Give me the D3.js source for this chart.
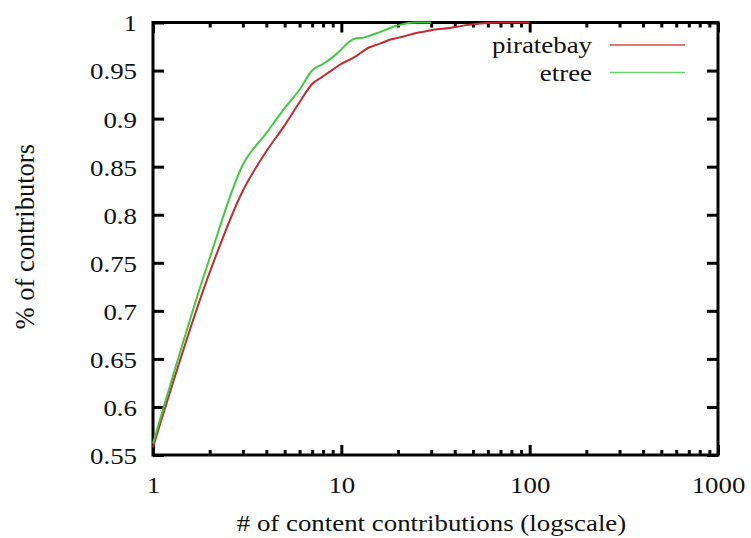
<!DOCTYPE html>
<html>
<head>
<meta charset="utf-8">
<script src="https://cdn.jsdelivr.net/npm/d3@7"></script>
</head>
<body style="margin:0; background:#fff">
<script>
// piratebay CDF
var pbX = [1, 2, 3, 4, 5, 6, 7, 8, 9, 10, 11, 12, 13, 14, 15, 16, 17, 18, 20, 25, 30, 40, 45, 55, 60, 70, 100];
var pbY = [0.558, 0.740, 0.825, 0.866, 0.893, 0.917, 0.936, 0.944, 0.951, 0.957, 0.961, 0.965, 0.970, 0.974, 0.976, 0.978, 0.980, 0.982, 0.984, 0.989, 0.992, 0.995, 0.997, 0.999, 0.9995, 1.0, 1.0];

// etree CDF
var etX = [1, 2, 3, 4, 5, 6, 7, 8, 9, 10, 11, 12, 13, 14, 15, 16, 17, 18, 19, 20, 22, 25, 30];
var etY = [0.562, 0.755, 0.852, 0.885, 0.911, 0.930, 0.950, 0.957, 0.964, 0.972, 0.980, 0.9835, 0.984, 0.986, 0.988, 0.990, 0.992, 0.994, 0.996, 0.997, 0.999, 1.0, 1.0];

var seriesNames = ["piratebay", "etree"];
var yTicks = [0.55, 0.6, 0.65, 0.7, 0.75, 0.8, 0.85, 0.9, 0.95, 1];
var xTicks = [1, 10, 100, 1000];
var xMinor = [2, 3, 4, 5, 6, 7, 8, 9, 20, 30, 40, 50, 60, 70, 80, 90, 200, 300, 400, 500, 600, 700, 800, 900];

var width = 751, height = 538;
var margin = {top: 22.5, right: 33, bottom: 83, left: 153};
var w = width - margin.left - margin.right,
    h = height - margin.top - margin.bottom;

var SX = 1.12; // the picture is a bit wider than tall

var colors = ["#c42a2e", "#3ccc3c"];
var legColors = ["#d44a4a", "#6ad66a"];

var x = d3.scaleLog().domain([1, 1000]).range([0, w]);
var y = d3.scaleLinear().domain([0.55, 1]).range([h, 0]);

var svg = d3.select("body").append("svg")
    .attr("width", width)
    .attr("height", height)
    .attr("font-family", "Liberation Serif")
    .style("display", "block");

var g = svg.append("g")
    .attr("transform", "translate(" + margin.left + "," + margin.top + ")");

// serif font, stretched horizontally about the text's own x
function serif(sel, size) {
    sel.attr("font-family", "Liberation Serif")
        .style("font-family", "'Liberation Serif'")
        .style("font-size", (size || 24) + "px")
        .attr("fill", "#111");
}
function stretch(sel) {
    sel.call(serif).attr("transform", function () {
        var tx = +d3.select(this).attr("x") || 0;
        return "translate(" + tx + ",0) scale(" + SX + ",1) translate(" + (-tx) + ",0)";
    });
}

// frame
g.append("rect")
    .attr("width", w)
    .attr("height", h)
    .attr("fill", "none")
    .attr("stroke", "#000")
    .attr("stroke-width", 3);

// y axis (left, ticks inward)
var yAxis = g.append("g")
    .call(d3.axisLeft(y).tickValues(yTicks).tickSize(-11).tickSizeOuter(0).tickPadding(16)
        .tickFormat(function (d) { return String(+d.toFixed(2)); }));
// y mirror (right)
g.append("g").attr("transform", "translate(" + w + ",0)")
    .call(d3.axisRight(y).tickValues(yTicks).tickSize(-11).tickSizeOuter(0).tickFormat(""));

// x axis major + minor
g.append("g").attr("transform", "translate(0," + h + ")")
    .call(d3.axisBottom(x).tickValues(xTicks).tickSize(-10).tickSizeOuter(0).tickPadding(21)
        .tickFormat(d3.format("d")));
g.append("g").attr("transform", "translate(0," + h + ")")
    .call(d3.axisBottom(x).tickValues(xMinor).tickSize(-5).tickSizeOuter(0).tickFormat(""));
// x mirror (top)
g.append("g")
    .call(d3.axisTop(x).tickValues(xTicks).tickSize(-10).tickSizeOuter(0).tickFormat(""));
g.append("g")
    .call(d3.axisTop(x).tickValues(xMinor).tickSize(-5).tickSizeOuter(0).tickFormat(""));

g.selectAll(".domain").remove();
g.selectAll("g").attr("font-family", "Liberation Serif").attr("font-size", null);
g.selectAll(".tick line").attr("stroke", "#000").attr("stroke-width", 3);
yAxis.selectAll(".tick text").attr("dy", "0.35em");
g.selectAll(".tick text").call(stretch);

// curves
var line = d3.line()
    .curve(d3.curveMonotoneX)
    .x(function (d) { return x(d[0]); })
    .y(function (d) { return y(d[1]); });

var series = [d3.zip(pbX, pbY), d3.zip(etX, etY)];

g.selectAll(".curve")
    .data(series)
    .enter().append("path")
    .attr("class", "curve")
    .attr("d", line)
    .attr("fill", "none")
    .attr("stroke", function (d, i) { return colors[i]; })
    .attr("stroke-width", 2)
    .attr("stroke-linejoin", "round");

// legend
var leg = g.selectAll(".leg")
    .data(seriesNames)
    .enter().append("g")
    .attr("class", "leg")
    .attr("transform", function (d, i) { return "translate(0," + (22.5 + i * 27.5) + ")"; });

leg.append("text")
    .attr("x", 439)
    .attr("dy", "0.35em")
    .attr("text-anchor", "end")
    .text(function (d) { return d; })
    .call(stretch);

leg.append("line")
    .attr("x1", 457)
    .attr("x2", 532)
    .attr("stroke", function (d, i) { return legColors[i]; })
    .attr("stroke-width", 1.3);

// axis labels
svg.append("text")
    .attr("x", margin.left + w / 2 - 4)
    .attr("y", 531)
    .attr("text-anchor", "middle")
    .text("# of content contributions (logscale)")
    .call(stretch);

svg.append("text")
    .attr("transform", "translate(34," + (margin.top + h / 2 - 2) + ") rotate(-90)")
    .attr("text-anchor", "middle")
    .text("% of contributors")
    .call(serif, 26.5);
</script>
</body>
</html>
